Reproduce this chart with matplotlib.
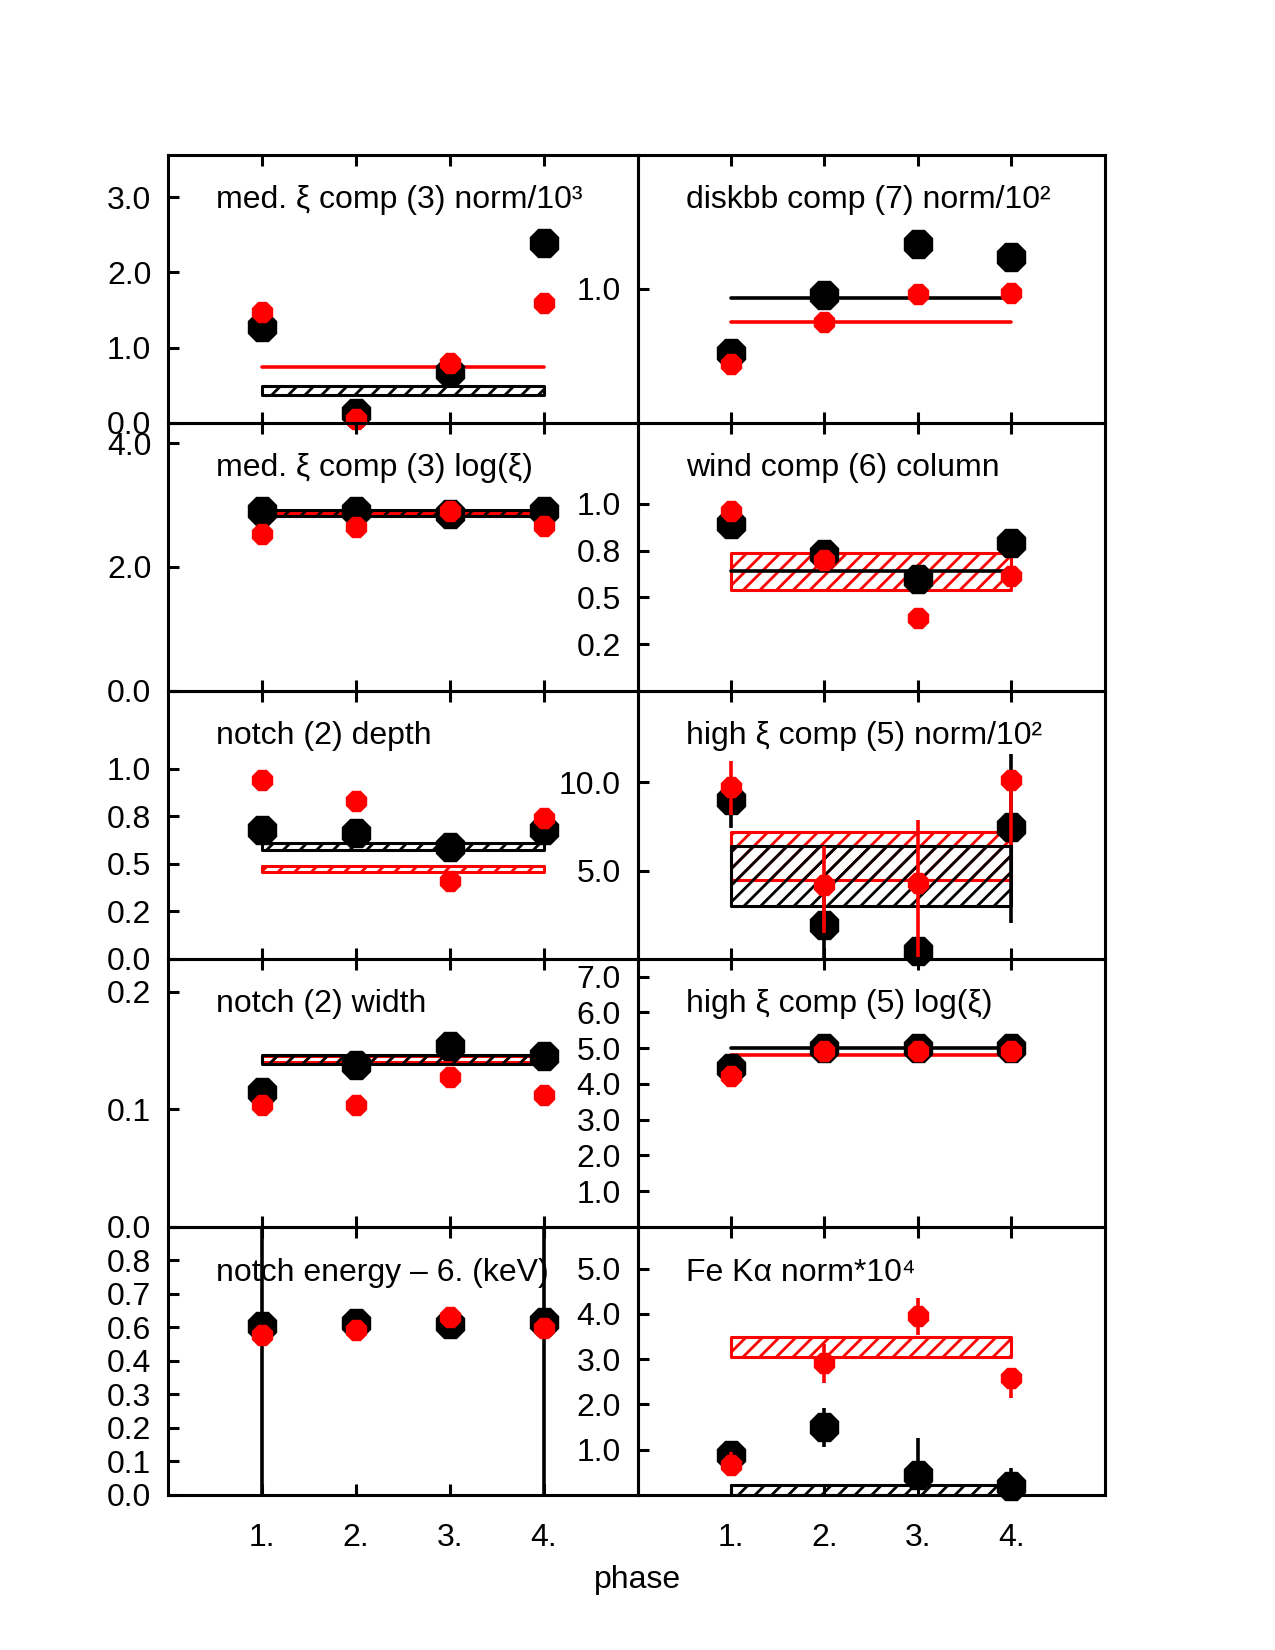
import matplotlib
matplotlib.use("Agg")
import matplotlib.pyplot as plt
import numpy as np

plt.rcParams['font.family'] = ['Liberation Sans', 'DejaVu Sans']
plt.rcParams['hatch.linewidth'] = 2.0

# ---------------- data ----------------
phases = [1, 2, 3, 4]
phase_labels = ['1.', '2.', '3.', '4.']
NaN = np.nan

# Panel: med. xi comp (3) norm/10^3
p1_title = 'med. ξ comp (3) norm/10³'
p1_black = [1.28, 0.13, 0.68, 2.39]
p1_red = [1.48, 0.05, 0.79, 1.60]
p1_black_lo = [NaN, NaN, NaN, 2.29]
p1_black_hi = [NaN, NaN, NaN, 2.50]
p1_black_band = (0.37, 0.49)
p1_red_band = (0.74, 0.74)
p1_ylim = (0, 3.57)
p1_yticks = [0.0, 1.0, 2.0, 3.0]
p1_yticklabels = ['0.0', '1.0', '2.0', '3.0']

# Panel: diskbb comp (7) norm/10^2
p2_title = 'diskbb comp (7) norm/10²'
p2_black = [0.52, 0.95, 1.335, 1.236]
p2_red = [0.44, 0.75, 0.958, 0.968]
p2_black_band = (0.933, 0.933)
p2_red_band = (0.752, 0.752)
p2_ylim = (0, 2.0)
p2_yticks = [1.0]
p2_yticklabels = ['1.0']

# Panel: med. xi comp (3) log(xi)
p3_title = 'med. ξ comp (3) log(ξ)'
p3_black = [2.90, 2.90, 2.86, 2.90]
p3_red = [2.54, 2.64, 2.91, 2.66]
p3_black_band = (2.83, 2.92)
p3_red_band = (2.865, 2.875)
p3_ylim = (0, 4.33)
p3_yticks = [0.0, 2.0, 4.0]
p3_yticklabels = ['0.0', '2.0', '4.0']

# Panel: wind comp (6) column
p4_title = 'wind comp (6) column'
p4_black = [0.89, 0.73, 0.60, 0.79]
p4_red = [0.96, 0.70, 0.39, 0.615]
p4_black_lo = [NaN, NaN, 0.54, NaN]
p4_black_hi = [NaN, NaN, 0.60, NaN]
p4_black_band = (0.64, 0.64)
p4_red_band = (0.54, 0.74)
p4_ylim = (0, 1.435)
p4_yticks = [0.25, 0.5, 0.75, 1.0]
p4_yticklabels = ['0.2', '0.5', '0.8', '1.0']

# Panel: notch (2) depth
p5_title = 'notch (2) depth'
p5_black = [0.68, 0.66, 0.59, 0.68]
p5_red = [0.94, 0.83, 0.41, 0.74]
p5_black_band = (0.574, 0.608)
p5_red_band = (0.456, 0.490)
p5_ylim = (0, 1.41)
p5_yticks = [0.0, 0.25, 0.5, 0.75, 1.0]
p5_yticklabels = ['0.0', '0.2', '0.5', '0.8', '1.0']

# Panel: high xi comp (5) norm/10^2
p6_title = 'high ξ comp (5) norm/10²'
p6_black = [9.0, 1.94, 0.43, 7.5]
p6_red = [9.77, 4.2, 4.3, 10.15]
p6_black_lo = [7.4, 0.0, NaN, 2.06]
p6_black_hi = [9.8, 4.0, NaN, 11.6]
p6_red_lo = [8.17, 1.47, 0.1, 6.47]
p6_red_hi = [11.2, 6.37, 7.88, 10.15]
p6_black_band = (2.98, 6.37)
p6_red_band = (4.45, 7.17)
p6_ylim = (0, 15.2)
p6_yticks = [5.0, 10.0]
p6_yticklabels = ['5.0', '10.0']

# Panel: notch (2) width
p7_title = 'notch (2) width'
p7_black = [0.1147, 0.138, 0.154, 0.1453]
p7_red = [0.1034, 0.1034, 0.1274, 0.112]
p7_black_lo = [0.11, NaN, NaN, NaN]
p7_black_hi = [0.121, NaN, NaN, NaN]
p7_black_band = (0.1388, 0.1465)
p7_red_band = (0.1405, 0.1450)
p7_ylim = (0, 0.228)
p7_yticks = [0.0, 0.1, 0.2]
p7_yticklabels = ['0.0', '0.1', '0.2']

# Panel: high xi comp (5) log(xi)
p8_title = 'high ξ comp (5) log(ξ)'
p8_black = [4.44, 5.0, 5.0, 5.0]
p8_red = [4.21, 4.91, 4.91, 4.91]
p8_black_band = (5.0, 5.0)
p8_red_band = (4.82, 4.82)
p8_ylim = (0, 7.5)
p8_yticks = [1.0, 2.0, 3.0, 4.0, 5.0, 6.0, 7.0]
p8_yticklabels = ['1.0', '2.0', '3.0', '4.0', '5.0', '6.0', '7.0']

# Panel: notch energy - 6. (keV)
p9_title = 'notch energy – 6. (keV)'
p9_black = [0.554, 0.563, 0.561, 0.569]
p9_red = [0.525, 0.541, 0.585, 0.547]
p9_black_lo = [-0.5, NaN, NaN, -0.5]
p9_black_hi = [1.5, NaN, NaN, 1.5]
p9_ylim = (0, 0.88)
p9_yticks = [0.0, 0.11, 0.22, 0.33, 0.44, 0.55, 0.66, 0.77]
p9_yticklabels = ['0.0', '0.1', '0.2', '0.3', '0.4', '0.6', '0.7', '0.8']

# Panel: Fe K alpha norm*10^4
p10_title = 'Fe Kα norm*10⁴'
p10_black = [0.89, 1.51, 0.45, 0.19]
p10_red = [0.67, 2.91, 3.95, 2.58]
p10_black_lo = [0.75, 1.07, 0.45, -0.2]
p10_black_hi = [1.0, 1.92, 1.26, 0.6]
p10_red_lo = [0.67, 2.48, 3.53, 2.14]
p10_red_hi = [0.96, 3.33, 4.34, 2.58]
p10_black_band = (0.0, 0.21)
p10_red_band = (3.04, 3.48)
p10_ylim = (0, 5.92)
p10_yticks = [1.0, 2.0, 3.0, 4.0, 5.0]
p10_yticklabels = ['1.0', '2.0', '3.0', '4.0', '5.0']

RED = '#ff0000'
FS = 23

panels = [
    dict(title=p1_title, black=p1_black, red=p1_red, black_lo=p1_black_lo, black_hi=p1_black_hi,
         black_band=p1_black_band, red_band=p1_red_band, ylim=p1_ylim, yt=p1_yticks, ytl=p1_yticklabels),
    dict(title=p2_title, black=p2_black, red=p2_red,
         black_band=p2_black_band, red_band=p2_red_band, ylim=p2_ylim, yt=p2_yticks, ytl=p2_yticklabels),
    dict(title=p3_title, black=p3_black, red=p3_red,
         black_band=p3_black_band, red_band=p3_red_band, ylim=p3_ylim, yt=p3_yticks, ytl=p3_yticklabels),
    dict(title=p4_title, black=p4_black, red=p4_red, black_lo=p4_black_lo, black_hi=p4_black_hi,
         black_band=p4_black_band, red_band=p4_red_band, ylim=p4_ylim, yt=p4_yticks, ytl=p4_yticklabels),
    dict(title=p5_title, black=p5_black, red=p5_red,
         black_band=p5_black_band, red_band=p5_red_band, ylim=p5_ylim, yt=p5_yticks, ytl=p5_yticklabels),
    dict(title=p6_title, black=p6_black, red=p6_red, black_lo=p6_black_lo, black_hi=p6_black_hi,
         red_lo=p6_red_lo, red_hi=p6_red_hi,
         black_band=p6_black_band, red_band=p6_red_band, ylim=p6_ylim, yt=p6_yticks, ytl=p6_yticklabels),
    dict(title=p7_title, black=p7_black, red=p7_red, black_lo=p7_black_lo, black_hi=p7_black_hi,
         black_band=p7_black_band, red_band=p7_red_band, ylim=p7_ylim, yt=p7_yticks, ytl=p7_yticklabels),
    dict(title=p8_title, black=p8_black, red=p8_red,
         black_band=p8_black_band, red_band=p8_red_band, ylim=p8_ylim, yt=p8_yticks, ytl=p8_yticklabels),
    dict(title=p9_title, black=p9_black, red=p9_red, black_lo=p9_black_lo, black_hi=p9_black_hi,
         ylim=p9_ylim, yt=p9_yticks, ytl=p9_yticklabels),
    dict(title=p10_title, black=p10_black, red=p10_red, black_lo=p10_black_lo, black_hi=p10_black_hi,
         red_lo=p10_red_lo, red_hi=p10_red_hi,
         black_band=p10_black_band, red_band=p10_red_band, ylim=p10_ylim, yt=p10_yticks, ytl=p10_yticklabels),
]

fig = plt.figure(figsize=(12.75, 16.5), dpi=100)
W, H = 1275.0, 1650.0
x_left, x_mid, x_right = 168.0, 637.5, 1104.6
y_top, y_bot = 154.6, 1495.0
row_h = (y_bot - y_top) / 5.0


def draw_band(ax, band, color, z):
    lo, hi = band
    if hi - lo <= 1e-12:
        ax.plot([phases[0], phases[-1]], [lo, lo], color=color, lw=2.6, zorder=z,
                solid_capstyle='round')
    else:
        ax.fill_between([phases[0], phases[-1]], [lo, lo], [hi, hi], facecolor='none',
                        edgecolor=color, hatch='//', lw=2.2, zorder=z)


for i, p in enumerate(panels):
    row, col = i // 2, i % 2
    x0 = x_left if col == 0 else x_mid
    x1 = x_mid if col == 0 else x_right
    top = y_top + row * row_h
    ax = fig.add_axes([x0 / W, 1 - (top + row_h) / H, (x1 - x0) / W, row_h / H])
    ax.set_facecolor('none')
    ax.set_xlim(0, 5)
    ax.set_ylim(*p['ylim'])

    # bands
    if 'red_band' in p and 'black_band' in p:
        draw_band(ax, p['red_band'], RED, 2)
        draw_band(ax, p['black_band'], 'black', 3)

    # error bars
    if 'black_lo' in p:
        ax.vlines(phases, p['black_lo'], p['black_hi'], color='black', lw=2.6, zorder=4)
    if 'red_lo' in p:
        ax.vlines(phases, p['red_lo'], p['red_hi'], color=RED, lw=2.6, zorder=6)

    ax.plot(phases, p['black'], ls='none', marker='8', ms=21.5, color='black',
            mec='black', zorder=5, clip_on=False)
    ax.plot(phases, p['red'], ls='none', marker='8', ms=16, color=RED,
            mec=RED, zorder=7, clip_on=False)

    ax.text(0.103, 0.80, p['title'], transform=ax.transAxes, fontsize=FS,
            ha='left', va='baseline', zorder=10)

    ax.set_yticks(p['yt'])
    ax.set_yticklabels(p['ytl'])
    ax.set_xticks(phases)
    if row == 4:
        ax.set_xticklabels(phase_labels)
    else:
        ax.set_xticklabels([])
    ax.tick_params(axis='both', direction='in', length=8, width=2.2, labelsize=FS,
                   top=True, bottom=True, left=True, right=False)
    ax.tick_params(axis='x', pad=20)
    ax.tick_params(axis='y', pad=12)
    for s in ax.spines.values():
        s.set_linewidth(2.2)
        s.set_zorder(8)

fig.text(0.5, 1 - 1580 / H, 'phase', ha='center', va='center', fontsize=FS)

fig.savefig('out.png', dpi=100)
